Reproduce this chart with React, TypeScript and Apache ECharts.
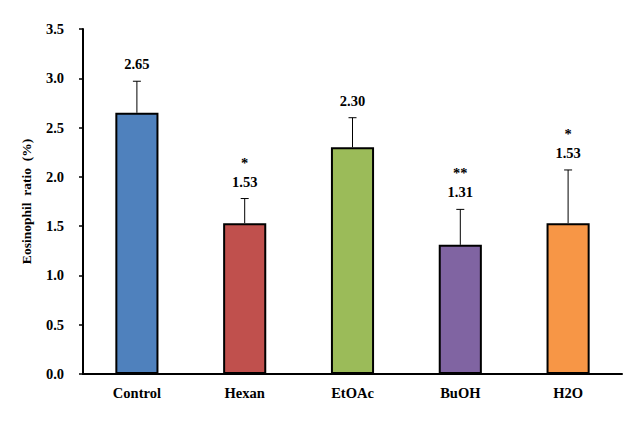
import React, { useEffect, useRef } from "react";
import * as echarts from "echarts";

const categories = ["Control", "Hexan", "EtOAc", "BuOH", "H2O"];
const values = [2.65, 1.53, 2.3, 1.31, 1.53];
const errorTops = [2.97, 1.78, 2.6, 1.67, 2.07];
const stars = ["", "*", "", "**", "*"];
const colors = ["#4F81BD", "#C0504D", "#9BBB59", "#8064A2", "#F79646"];
const yTicks = { min: 0, max: 3.5, interval: 0.5 };

const FONT = "'Liberation Serif', 'Times New Roman', serif";

export default function App() {
  const ref = useRef<HTMLDivElement>(null);
  useEffect(() => {
    document.body.style.margin = "0";
    if (!ref.current) return;
    const chart = echarts.init(ref.current, undefined, { renderer: "svg" });
    const errData = categories.map((c, i) => [i, values[i], errorTops[i], stars[i]]);
    chart.setOption({
      animation: false,
      backgroundColor: "#ffffff",
      grid: { left: 83, right: 14, top: 29, bottom: 54 },
      xAxis: {
        type: "category",
        data: categories,
        axisLine: { lineStyle: { color: "#000", width: 2 } },
        axisTick: { show: false },
        axisLabel: {
          color: "#000",
          fontFamily: FONT,
          fontWeight: "bold",
          fontSize: 14.5,
          margin: 11,
        },
      },
      yAxis: {
        type: "value",
        min: yTicks.min,
        max: yTicks.max,
        interval: yTicks.interval,
        name: "Eosinophil  ratio  (%)",
        nameLocation: "middle",
        nameGap: 50,
        nameTextStyle: {
          color: "#000",
          fontFamily: FONT,
          fontWeight: "bold",
          fontSize: 13.5,
        },
        axisLine: { show: true, lineStyle: { color: "#000", width: 2 } },
        axisTick: { show: true, length: 4, lineStyle: { color: "#000", width: 1.5 } },
        splitLine: { show: false },
        axisLabel: {
          color: "#000",
          fontFamily: FONT,
          fontWeight: "bold",
          fontSize: 14.5,
          margin: 19,
          formatter: (v: number) => v.toFixed(1),
        },
      },
      series: [
        {
          type: "bar",
          barWidth: "40%",
          data: values.map((v, i) => ({
            value: v,
            itemStyle: { color: colors[i], borderColor: "#000", borderWidth: 2 },
          })),
          z: 2,
        },
        {
          type: "custom",
          z: 3,
          data: errData,
          renderItem: (params: any, api: any) => {
            const i = api.value(0);
            const v = api.value(1);
            const top = api.value(2);
            const idx = params.dataIndex;
            const star = stars[idx];
            const pBase = api.coord([i, v]);
            const pTop = api.coord([i, top]);
            const x = pBase[0];
            const cap = 4;
            const children: any[] = [
              {
                type: "line",
                shape: { x1: x, y1: pBase[1], x2: x, y2: pTop[1] },
                style: { stroke: "#000", lineWidth: 1 },
              },
              {
                type: "line",
                shape: { x1: x - cap, y1: pTop[1], x2: x + cap, y2: pTop[1] },
                style: { stroke: "#000", lineWidth: 1 },
              },
              {
                type: "text",
                x: x,
                y: pTop[1] - 17,
                style: {
                  text: values[idx].toFixed(2),
                  fill: "#000",
                  font: `bold 14.5px ${FONT}`,
                  align: "center",
                  verticalAlign: "middle",
                },
              },
            ];
            if (star) {
              children.push({
                type: "text",
                x: x,
                y: pTop[1] - 36,
                style: {
                  text: star,
                  fill: "#000",
                  font: `bold 14.5px ${FONT}`,
                  align: "center",
                  verticalAlign: "middle",
                },
              });
            }
            return { type: "group", children };
          },
        },
      ],
    });
    return () => chart.dispose();
  }, []);
  return <div ref={ref} style={{ width: 636, height: 428 }} />;
}
